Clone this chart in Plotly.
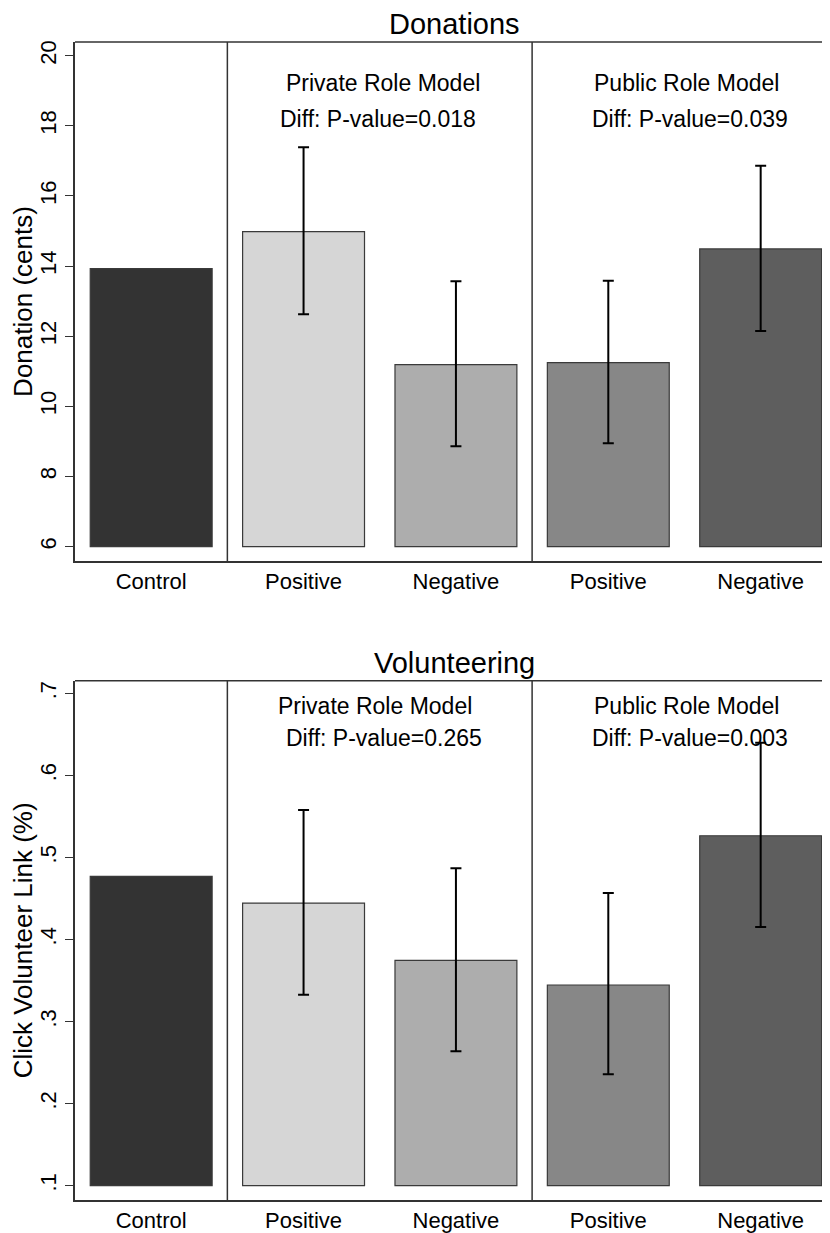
import plotly.graph_objects as go

# Categories and bar colours
groups = ['Control', 'Positive', 'Negative', 'Positive', 'Negative']
colors = ['#333333', '#d6d6d6', '#adadad', '#878787', '#5e5e5e']

# Donations (cents): means and 95% CI
don_mean = [13.93, 14.98, 11.19, 11.25, 14.49]
don_low = [None, 12.63, 8.86, 8.95, 12.15]
don_high = [None, 17.39, 13.57, 13.58, 16.86]
don_ticks = [6, 8, 10, 12, 14, 16, 18, 20]
don_pvals = ['0.018', '0.039']

# Volunteering (share clicking the link)
vol_mean = [0.477, 0.4445, 0.3746, 0.3446, 0.5265]
vol_low = [None, 0.3327, 0.2638, 0.2357, 0.4152]
vol_high = [None, 0.5578, 0.4868, 0.4567, 0.6398]
vol_ticks = [0.1, 0.2, 0.3, 0.4, 0.5, 0.6, 0.7]
vol_ticktext = ['.1', '.2', '.3', '.4', '.5', '.6', '.7']
vol_pvals = ['0.265', '0.003']

FONT = 'Liberation Sans, Arial, sans-serif'


def add_panel(fig, mean, low, high, base, xa, ya):
    """ Adds the bars with their confidence intervals to one panel. """
    x = list(range(len(mean)))
    up = [0 if h is None else h - m for m, h in zip(mean, high)]
    down = [0 if l is None else m - l for m, l in zip(mean, low)]
    vis = [h is not None for h in high]
    fig.add_trace(go.Bar(
        x=x, y=[m - base for m in mean], base=base, width=0.8,
        marker=dict(color=colors, line=dict(color='#3a3a3a', width=1.2)),
        xaxis=xa, yaxis=ya, showlegend=False))
    # error bars drawn on an invisible scatter so Control gets none
    fig.add_trace(go.Scatter(
        x=[xi for xi, v in zip(x, vis) if v],
        y=[m for m, v in zip(mean, vis) if v],
        mode='markers', marker=dict(size=0.1, color='rgba(0,0,0,0)'),
        error_y=dict(type='data', symmetric=False,
                     array=[u for u, v in zip(up, vis) if v],
                     arrayminus=[d for d, v in zip(down, vis) if v],
                     color='black', thickness=2, width=5.5),
        xaxis=xa, yaxis=ya, showlegend=False))


fig = go.Figure()
add_panel(fig, don_mean, don_low, don_high, 6, 'x', 'y')
add_panel(fig, vol_mean, vol_low, vol_high, 0.1, 'x2', 'y2')

xcommon = dict(range=[-0.5, 4.455], tickvals=list(range(5)), ticktext=groups,
               showline=True, linecolor='#333333', linewidth=1.5, ticks='',
               showgrid=False, zeroline=False, fixedrange=True,
               tickfont=dict(size=22, color='black', family=FONT))
ycommon = dict(showline=True, linecolor='#333333', linewidth=1.5, ticks='outside',
               ticklen=8, tickwidth=1.2, tickcolor='#333333', tickangle=-90,
               showgrid=False, zeroline=False,
               tickfont=dict(size=22, color='black', family=FONT),
               title_font=dict(size=26, color='black', family=FONT), title_standoff=6)

# page body keeps an 8px margin, so the figure is 8px smaller than the window
fig.update_layout(
    width=822, height=1225,
    margin=dict(l=67, r=0, t=34, b=33),
    plot_bgcolor='white', paper_bgcolor='white',
    font=dict(family=FONT, color='black'),
    xaxis=dict(xcommon, anchor='y'),
    xaxis2=dict(xcommon, anchor='y2'),
    yaxis=dict(ycommon, domain=[0.5518, 1], range=[5.59, 20.39], tickvals=don_ticks,
               title_text='Donation (cents)', anchor='x'),
    yaxis2=dict(ycommon, domain=[0, 0.4484], range=[0.0826, 0.7154], tickvals=vol_ticks,
                ticktext=vol_ticktext, title_text='Click Volunteer Link (%)', anchor='x2'),
)

# Frame: top border and the dividers between the treatment groups
for xa, ya in [('x', 'y'), ('x2', 'y2')]:
    fig.add_shape(type='line', xref=xa + ' domain', yref=ya + ' domain', x0=0, x1=1, y0=1, y1=1,
                  line=dict(color='#333333', width=1.5))
    for xd in [0.5, 2.5]:
        fig.add_shape(type='line', xref=xa, yref=ya + ' domain', x0=xd, x1=xd, y0=0, y1=1,
                      line=dict(color='#333333', width=1.5))

# Panel titles
for ya, title in [('y', 'Donations'), ('y2', 'Volunteering')]:
    fig.add_annotation(text=title, xref='x domain' if ya == 'y' else 'x2 domain', yref=ya + ' domain',
                       x=0.503, y=1, yanchor='bottom', yshift=0, showarrow=False,
                       font=dict(size=29, color='black', family=FONT))

# Group labels and p-values (centres)
names = ['Private Role Model', 'Public Role Model']
don_name_x, don_diff_x = [1.52, 3.514], [1.486, 3.533]
vol_name_x, vol_diff_x = [1.47, 3.514], [1.529, 3.537]
lab_font = dict(size=23, color='black', family=FONT)
for name, pv, nx, dx in zip(names, don_pvals, don_name_x, don_diff_x):
    fig.add_annotation(text=name, x=nx, y=19.22, xref='x', yref='y', showarrow=False, font=lab_font)
    fig.add_annotation(text='Diff: P-value=' + pv, x=dx, y=18.2, xref='x', yref='y',
                       showarrow=False, font=lab_font)
for name, pv, nx, dx in zip(names, vol_pvals, vol_name_x, vol_diff_x):
    fig.add_annotation(text=name, x=nx, y=0.6845, xref='x2', yref='y2', showarrow=False, font=lab_font)
    fig.add_annotation(text='Diff: P-value=' + pv, x=dx, y=0.6455, xref='x2', yref='y2',
                       showarrow=False, font=lab_font)

fig.write_html("out.html")
